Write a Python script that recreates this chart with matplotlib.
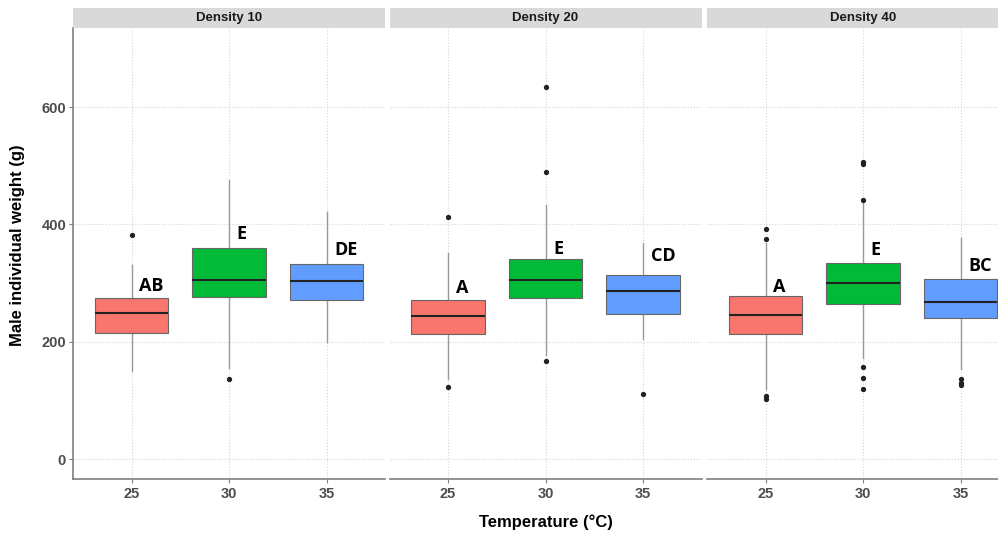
import matplotlib
matplotlib.use('agg')
import matplotlib.pyplot as plt
from matplotlib.patches import Rectangle

# ---- data ----
panels = ['Density 10', 'Density 20', 'Density 40']
temps = ['25', '30', '35']
colors = ['#F8766D', '#00BA38', '#619CFF']

# per panel, per temperature: (whislo, q1, med, q3, whishi)
d10_stats = [(150, 215, 249, 275, 331),
             (156, 276, 305, 360, 476),
             (200, 271, 304, 333, 421)]
d20_stats = [(136, 214, 244, 271, 352),
             (177, 275, 306, 341, 433),
             (204, 247, 287, 313, 368)]
d40_stats = [(119, 214, 245, 278, 368),
             (172, 265, 301, 335, 436),
             (154, 240, 268, 307, 377)]

d10_out = [[382], [137], []]
d20_out = [[412, 123], [634, 489, 168], [111]]
d40_out = [[393, 376, 107, 102], [506, 503, 441, 157, 139, 120], [136, 130, 126]]

# significance letters and the height where they sit
d10_letters = ['AB', 'E', 'DE']
d20_letters = ['A', 'E', 'CD']
d40_letters = ['A', 'E', 'BC']
d10_lab_y = [295, 383, 356]
d20_lab_y = [291, 358, 346]
d40_lab_y = [293, 356, 329]

all_stats = [d10_stats, d20_stats, d40_stats]
all_out = [d10_out, d20_out, d40_out]
all_letters = [d10_letters, d20_letters, d40_letters]
all_lab_y = [d10_lab_y, d20_lab_y, d40_lab_y]

W, H = 998, 537
fig = plt.figure(figsize=(W / 100, H / 100), dpi=100)

panel_left = [73, 389.5, 707]
panel_w = 312
top_px, bot_px = 28, 479
strip_h = 20

for i, name in enumerate(panels):
    ax = fig.add_axes([panel_left[i] / W, 1 - bot_px / H,
                       panel_w / W, (bot_px - top_px) / H])
    stats = []
    for j, t in enumerate(temps):
        lo, q1, med, q3, hi = all_stats[i][j]
        stats.append(dict(whislo=lo, q1=q1, med=med, q3=q3, whishi=hi,
                          fliers=all_out[i][j], label=t))
    bp = ax.bxp(stats, positions=[1, 2, 3], widths=0.75, patch_artist=True,
                showcaps=False,
                boxprops=dict(edgecolor='#666666', linewidth=0.8),
                whiskerprops=dict(color='#999999', linewidth=1.0),
                medianprops=dict(color='#222222', linewidth=1.5),
                flierprops=dict(marker='o', markersize=2.8,
                                markerfacecolor='#222222',
                                markeredgecolor='#222222'))
    for patch, c in zip(bp['boxes'], colors):
        patch.set_facecolor(c)
        patch.set_zorder(3)
    for k in ('whiskers', 'medians', 'fliers'):
        for a in bp[k]:
            a.set_zorder(2 if k == 'whiskers' else 4)

    for j, lab in enumerate(all_letters[i]):
        ax.text(j + 1 + 0.08, all_lab_y[i][j], lab, ha='left', va='center',
                fontsize=13, fontweight='bold', family='Open Sans',
                color='black', zorder=5)

    ax.set_xlim(0.4, 3.6)
    ax.set_ylim(-34, 735)
    ax.set_yticks([0, 200, 400, 600])
    ax.set_xticks([1, 2, 3])
    ax.set_xticklabels(temps)
    ax.grid(True, linestyle=':', color='#D5D5D5', linewidth=0.8, zorder=0)
    ax.set_axisbelow(True)

    for s in ('top', 'right'):
        ax.spines[s].set_visible(False)
    ax.spines['bottom'].set_color('#7F7F7F')
    ax.spines['bottom'].set_linewidth(1.2)
    if i == 0:
        ax.spines['left'].set_color('#7F7F7F')
        ax.spines['left'].set_linewidth(1.2)
        ax.tick_params(axis='y', length=3, color='#7F7F7F', labelsize=10.5,
                       labelcolor='#4D4D4D', pad=2)
        for lbl in ax.get_yticklabels():
            lbl.set_fontweight('bold')
            lbl.set_family('Liberation Sans')
    else:
        ax.spines['left'].set_visible(False)
        ax.tick_params(axis='y', length=0, labelleft=False)
    ax.tick_params(axis='x', length=3, color='#7F7F7F', labelsize=10.5,
                   labelcolor='#4D4D4D', pad=3)
    for lbl in ax.get_xticklabels():
        lbl.set_fontweight('bold')
        lbl.set_family('Liberation Sans')

    # facet strip
    sax = fig.add_axes([panel_left[i] / W, 1 - top_px / H,
                        panel_w / W, strip_h / H])
    sax.add_patch(Rectangle((0, 0), 1, 1, facecolor='#D9D9D9',
                            edgecolor='none', transform=sax.transAxes))
    sax.text(0.5, 0.5, name, ha='center', va='center', fontsize=9.5,
             fontweight='bold', family='Liberation Sans', color='#1A1A1A',
             transform=sax.transAxes)
    sax.set_axis_off()

fig.text(18 / W, 1 - 245 / H, 'Male individual weight (g)', rotation=90,
         ha='center', va='center', fontsize=12, fontweight='bold',
         family='Liberation Sans')
fig.text(546 / W, 1 - 522 / H, 'Temperature (°C)', ha='center', va='center',
         fontsize=12, fontweight='bold', family='Liberation Sans')

fig.savefig('out.png', dpi=100)
